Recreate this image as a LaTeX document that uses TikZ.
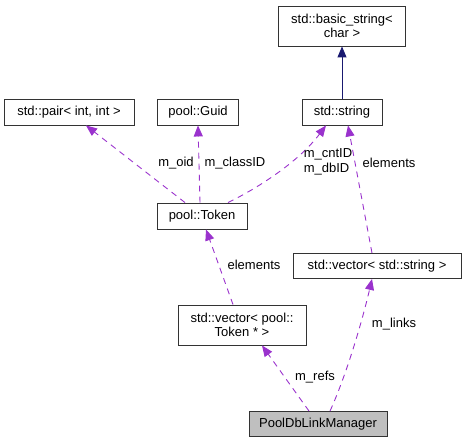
\documentclass[tikz,border=0pt]{standalone}
\usepackage{fontspec}
\setmainfont{Liberation Sans}
\usetikzlibrary{arrows.meta}
\definecolor{dep}{HTML}{9A32CD}
\definecolor{inh}{HTML}{191970}
\begin{document}
\begin{tikzpicture}[x=1pt, y=-1pt,
    box/.style={draw=black!80, line width=0.9pt, inner sep=2pt, align=center, font=\fontsize{13}{14}\selectfont},
    lbl/.style={inner sep=0pt, align=left, font=\fontsize{13}{14.5}\selectfont},
    use/.style={draw=dep, line width=0.9pt, dash pattern=on 6pt off 5pt, -{Triangle[length=11pt, width=9pt, fill=dep]}},
    isa/.style={draw=inh, line width=0.9pt, -{Triangle[length=11pt, width=9pt, fill=inh]}}]
  \useasboundingbox (0,0) rectangle (465,443);
  \node[box, minimum width=127pt, minimum height=40pt] (bstr) at (342,26) {std::basic\_string<\\char >};
  \node[box, minimum width=130pt, minimum height=26pt] (pair) at (69,112) {std::pair< int, int >};
  \node[box, minimum width=81pt, minimum height=26pt] (guid) at (198,112) {pool::Guid};
  \node[box, minimum width=80pt, minimum height=26pt] (str) at (342,112) {std::string};
  \node[box, minimum width=90pt, minimum height=26pt] (tok) at (202,216) {pool::Token};
  \node[box, minimum width=168pt, minimum height=25pt] (vstr) at (377,266) {std::vector< std::string >};
  \node[box, minimum width=128pt, minimum height=40pt] (vtok) at (242,325) {std::vector< pool::\\Token * >};
  \node[box, fill=black!25, minimum width=138pt, minimum height=25pt] (mgr) at (318,424) {PoolDbLinkManager};
  \draw[isa] (str) -- (bstr);
  \draw[use] ([xshift=-17pt]tok.north) -- ([xshift=17pt]pair.south) node[lbl] at (176,163) {m\_oid};
  \draw[use] ([xshift=-2pt]tok.north) -- (guid.south) node[lbl] at (235,163) {m\_classID};
  \draw[use] ([xshift=26pt]tok.north) .. controls (262,186) and (300,160) .. ([xshift=-16pt]str.south) node[lbl] at (328,162) {m\_cntID\\m\_dbID};
  \draw[use] ([xshift=-5pt]vstr.north) -- ([xshift=6pt]str.south) node[lbl] at (389,163) {elements};
  \draw[use] ([xshift=-9pt]vtok.north) -- ([xshift=4pt]tok.south) node[lbl] at (254,265) {elements};
  \draw[use] ([xshift=-9pt]mgr.north) -- ([xshift=20pt]vtok.south) node[lbl] at (315,377) {m\_refs};
  \draw[use] ([xshift=12pt]mgr.north) .. controls (346,376) and (362,322) .. ([xshift=-5pt]vstr.south) node[lbl] at (394,324) {m\_links};
\end{tikzpicture}
\end{document}
